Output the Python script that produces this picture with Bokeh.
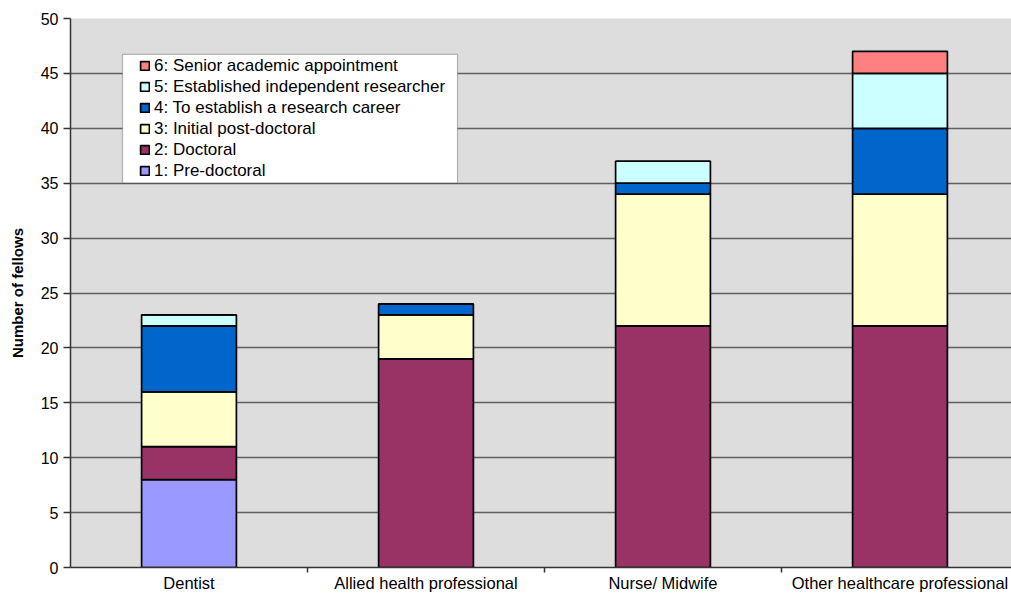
from bokeh.plotting import figure
from bokeh.models import (Range1d, FixedTicker, Legend, LegendItem, BoxAnnotation,
                          ColumnDataSource)
from bokeh.embed import file_html
from bokeh.resources import INLINE

categories = ["Dentist", "Allied health professional", "Nurse/ Midwife", "Other healthcare professional"]
stages = ["1: Pre-doctoral", "2: Doctoral", "3: Initial post-doctoral",
          "4: To establish a research career", "5: Established independent researcher",
          "6: Senior academic appointment"]
pre_doctoral = [8, 0, 0, 0]
doctoral = [3, 19, 22, 22]
initial_post_doctoral = [5, 4, 12, 12]
establish_career = [6, 1, 1, 6]
established_independent = [1, 0, 2, 5]
senior_academic = [0, 0, 0, 2]
colors = ["#9999FF", "#993366", "#FFFFCC", "#0066CC", "#CCFFFF", "#FF8080"]
y_ticks = list(range(0, 51, 5))

series = [pre_doctoral, doctoral, initial_post_doctoral, establish_career,
          established_independent, senior_academic]
keys = ["s%d" % i for i in range(6)]
xpos = [i + 0.5 for i in range(len(categories))]
data = {"x": xpos}
for k, s in zip(keys, series):
    data[k] = s
source = ColumnDataSource(data)

FONT = "Liberation Sans"

p = figure(width=1011, height=594, output_backend="svg", toolbar_location=None,
           x_range=Range1d(0, 941 / 237), y_range=Range1d(0, 50),
           min_border_left=70, min_border_right=0, min_border_top=18, min_border_bottom=25)
p.background_fill_color = "#DDDDDD"
p.border_fill_color = "white"
p.outline_line_color = None

renderers = p.vbar_stack(keys, x="x", width=0.4, source=source, fill_color=colors,
                         line_color="black", line_width=1.7)

# axes
p.xaxis.ticker = FixedTicker(ticks=xpos, minor_ticks=[1, 2, 3])
p.xaxis.major_label_overrides = {x: c for x, c in zip(xpos, categories)}
p.xaxis.major_tick_out = 0
p.xaxis.major_tick_in = 0
p.xaxis.minor_tick_out = 5
p.xaxis.minor_tick_in = 0
p.xaxis.minor_tick_line_color = "#333333"
p.xaxis.minor_tick_line_width = 1.5
p.xaxis.major_label_standoff = 1
p.xaxis.major_label_text_font = FONT
p.xaxis.major_label_text_font_size = "16.5px"
p.xaxis.major_label_text_color = "black"
p.xaxis.axis_line_color = "#333333"
p.xaxis.axis_line_width = 1.5

p.yaxis.ticker = FixedTicker(ticks=y_ticks)
p.yaxis.major_tick_out = 7
p.yaxis.major_tick_in = 0
p.yaxis.minor_tick_line_color = None
p.yaxis.major_tick_line_color = "#333333"
p.yaxis.major_tick_line_width = 1.5
p.yaxis.major_label_standoff = 5
p.yaxis.major_label_text_font = FONT
p.yaxis.major_label_text_font_size = "16px"
p.yaxis.major_label_text_color = "black"
p.yaxis.axis_line_color = "#333333"
p.yaxis.axis_line_width = 1.5
p.yaxis.axis_label = "Number of fellows"
p.yaxis.axis_label_text_font = FONT
p.yaxis.axis_label_text_font_style = "bold"
p.yaxis.axis_label_text_font_size = "15px"
p.yaxis.axis_label_text_color = "black"
p.yaxis.axis_label_standoff = 12

p.xgrid.grid_line_color = None
p.ygrid.grid_line_color = "#606060"
p.ygrid.grid_line_width = 1.3

# legend box
box = BoxAnnotation(left=52 / 237, right=387 / 237, top=(569 - 54) / 551 * 50,
                    bottom=(569 - 183) / 551 * 50, fill_color="white", fill_alpha=1,
                    line_color="#222222", line_width=1.2)
p.add_layout(box)

items = [LegendItem(label=stages[i], renderers=[renderers[i]]) for i in range(5, -1, -1)]
legend = Legend(items=items, location=(69, 386), padding=0, margin=0, spacing=0,
                glyph_width=11, glyph_height=11, label_standoff=4, label_height=21,
                label_text_font=FONT, label_text_font_size="17px",
                label_text_color="black",
                background_fill_alpha=0, border_line_color=None)
p.add_layout(legend)

open("out.html", "w").write(file_html(p, INLINE))
